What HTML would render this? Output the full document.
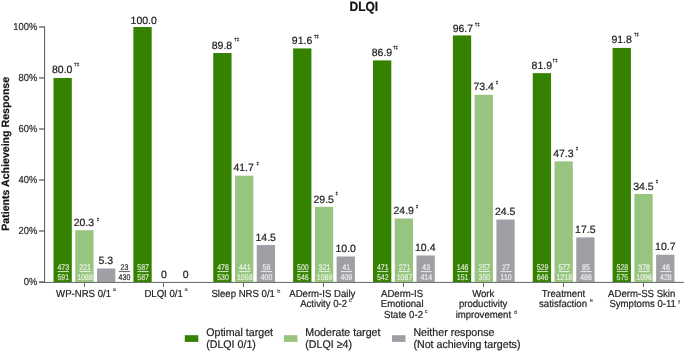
<!DOCTYPE html><html><head><meta charset="utf-8"><style>
html,body{margin:0;padding:0;background:#fff;}
body{width:685px;height:352px;overflow:hidden;}
svg{display:block;will-change:transform;text-rendering:geometricPrecision;} svg{font-family:"Liberation Sans",sans-serif;}
</style></head><body>
<svg width="685" height="352" viewBox="0 0 685 352">
<text transform="translate(363.8,10.5) scale(1,1.11)" font-size="12" font-weight="bold" text-anchor="middle" fill="#111" stroke="#111" stroke-width="0.2">DLQI</text>
<text transform="translate(9.3,153.8) rotate(-90)" font-size="10.6" font-weight="bold" text-anchor="middle" fill="#111" stroke="#111" stroke-width="0.2">Patients Achieveing Response</text>
<text transform="translate(37.3,284.80) scale(1,1.08)" font-size="9.4" text-anchor="end" fill="#2a2a2a" stroke="#2a2a2a" stroke-width="0.2">0%</text>
<rect x="39" y="281.40" width="5.5" height="1.2" fill="#555"/>
<text transform="translate(37.3,233.80) scale(1,1.08)" font-size="9.4" text-anchor="end" fill="#2a2a2a" stroke="#2a2a2a" stroke-width="0.2">20%</text>
<rect x="39" y="230.40" width="5.5" height="1.2" fill="#555"/>
<text transform="translate(37.3,182.80) scale(1,1.08)" font-size="9.4" text-anchor="end" fill="#2a2a2a" stroke="#2a2a2a" stroke-width="0.2">40%</text>
<rect x="39" y="179.40" width="5.5" height="1.2" fill="#555"/>
<text transform="translate(37.3,131.80) scale(1,1.08)" font-size="9.4" text-anchor="end" fill="#2a2a2a" stroke="#2a2a2a" stroke-width="0.2">60%</text>
<rect x="39" y="128.40" width="5.5" height="1.2" fill="#555"/>
<text transform="translate(37.3,80.80) scale(1,1.08)" font-size="9.4" text-anchor="end" fill="#2a2a2a" stroke="#2a2a2a" stroke-width="0.2">80%</text>
<rect x="39" y="77.40" width="5.5" height="1.2" fill="#555"/>
<text transform="translate(37.3,29.80) scale(1,1.08)" font-size="9.4" text-anchor="end" fill="#2a2a2a" stroke="#2a2a2a" stroke-width="0.2">100%</text>
<rect x="39" y="26.40" width="5.5" height="1.2" fill="#555"/>
<rect x="44" y="26.5" width="1.1" height="256" fill="#626262"/>
<rect x="39" y="281.9" width="645" height="1" fill="#626262"/>
<rect x="84" y="283" width="1" height="4" fill="#666"/>
<rect x="53.50" y="78.00" width="18.30" height="204.00" fill="#348200"/>
<text x="51.96" y="73.40" font-size="10.5" fill="#222222" stroke="#222222" stroke-width="0.2">80.0</text>
<text x="74.09" y="66.43" font-size="4.6" font-weight="bold" fill="#222222" stroke="#222222" stroke-width="0.2">†‡</text>
<text transform="translate(63.25,269.8) scale(1,1.18)" font-size="7" text-anchor="middle" fill="#d3e4c8" stroke="#d3e4c8" stroke-width="0.2">473</text>
<rect x="57.65" y="271.0" width="11.2" height="1.1" fill="#c6dbb6"/>
<text transform="translate(63.25,280) scale(1,1.18)" font-size="7" text-anchor="middle" fill="#d3e4c8" stroke="#d3e4c8" stroke-width="0.2">591</text>
<rect x="75.25" y="230.24" width="18.30" height="51.76" fill="#97c47f"/>
<text x="73.70" y="226.10" font-size="10.5" fill="#222222" stroke="#222222" stroke-width="0.2">20.3</text>
<text x="96.71" y="220.79" font-size="4.4" font-weight="bold" fill="#222222" stroke="#222222" stroke-width="0.2">‡</text>
<text transform="translate(85.00,269.8) scale(1,1.18)" font-size="7" text-anchor="middle" fill="#e8f1e2" stroke="#e8f1e2" stroke-width="0.2">221</text>
<rect x="79.40" y="271.0" width="11.2" height="1.1" fill="#e2eedb"/>
<text transform="translate(85.00,280) scale(1,1.18)" font-size="7" text-anchor="middle" fill="#e8f1e2" stroke="#e8f1e2" stroke-width="0.2">1088</text>
<rect x="97.00" y="268.49" width="18.30" height="13.51" fill="#a09fa6"/>
<text x="98.52" y="264.40" font-size="10.5" fill="#222222" stroke="#222222" stroke-width="0.2">5.3</text>
<text transform="translate(124.45,269.8) scale(1,1.18)" font-size="7" text-anchor="middle" fill="#2a2a2a" stroke="#2a2a2a" stroke-width="0.2">23</text>
<rect x="118.85" y="271.0" width="11.2" height="1.1" fill="#6a6a6a"/>
<text transform="translate(124.45,280) scale(1,1.18)" font-size="7" text-anchor="middle" fill="#2a2a2a" stroke="#2a2a2a" stroke-width="0.2">430</text>
<text transform="translate(83.55,296.90) scale(1,1.06)" font-size="9.6" text-anchor="middle" fill="#222222" stroke="#222222" stroke-width="0.2">WP-NRS 0/1</text>
<text x="112.80" y="291.40" font-size="5.6" fill="#333" stroke="#333" stroke-width="0.1">a</text>
<rect x="163" y="283" width="1" height="4" fill="#666"/>
<rect x="133.38" y="27.00" width="18.30" height="255.00" fill="#348200"/>
<text x="130.57" y="24.20" font-size="10.5" fill="#222222" stroke="#222222" stroke-width="0.2">100.0</text>
<text transform="translate(143.12,269.8) scale(1,1.18)" font-size="7" text-anchor="middle" fill="#d3e4c8" stroke="#d3e4c8" stroke-width="0.2">587</text>
<rect x="137.53" y="271.0" width="11.2" height="1.1" fill="#c6dbb6"/>
<text transform="translate(143.12,280) scale(1,1.18)" font-size="7" text-anchor="middle" fill="#d3e4c8" stroke="#d3e4c8" stroke-width="0.2">587</text>
<text x="161.03" y="277.80" font-size="10.5" fill="#222222" stroke="#222222" stroke-width="0.2">0</text>
<text x="182.63" y="277.80" font-size="10.5" fill="#222222" stroke="#222222" stroke-width="0.2">0</text>
<text transform="translate(163.60,296.90) scale(1,1.06)" font-size="9.6" text-anchor="middle" fill="#222222" stroke="#222222" stroke-width="0.2">DLQI 0/1</text>
<text x="184.50" y="291.40" font-size="5.6" fill="#333" stroke="#333" stroke-width="0.1">a</text>
<rect x="243" y="283" width="1" height="4" fill="#666"/>
<rect x="213.25" y="53.01" width="18.30" height="228.99" fill="#348200"/>
<text x="211.71" y="48.50" font-size="10.5" fill="#222222" stroke="#222222" stroke-width="0.2">89.8</text>
<text x="234.19" y="41.43" font-size="4.6" font-weight="bold" fill="#222222" stroke="#222222" stroke-width="0.2">†‡</text>
<text transform="translate(223.00,269.8) scale(1,1.18)" font-size="7" text-anchor="middle" fill="#d3e4c8" stroke="#d3e4c8" stroke-width="0.2">476</text>
<rect x="217.40" y="271.0" width="11.2" height="1.1" fill="#c6dbb6"/>
<text transform="translate(223.00,280) scale(1,1.18)" font-size="7" text-anchor="middle" fill="#d3e4c8" stroke="#d3e4c8" stroke-width="0.2">530</text>
<rect x="235.00" y="175.67" width="18.30" height="106.33" fill="#97c47f"/>
<text x="233.38" y="171.30" font-size="10.5" fill="#222222" stroke="#222222" stroke-width="0.2">41.7</text>
<text x="256.61" y="165.19" font-size="4.4" font-weight="bold" fill="#222222" stroke="#222222" stroke-width="0.2">‡</text>
<text transform="translate(244.75,269.8) scale(1,1.18)" font-size="7" text-anchor="middle" fill="#e8f1e2" stroke="#e8f1e2" stroke-width="0.2">441</text>
<rect x="239.15" y="271.0" width="11.2" height="1.1" fill="#e2eedb"/>
<text transform="translate(244.75,280) scale(1,1.18)" font-size="7" text-anchor="middle" fill="#e8f1e2" stroke="#e8f1e2" stroke-width="0.2">1058</text>
<rect x="256.75" y="245.03" width="18.30" height="36.97" fill="#a09fa6"/>
<text x="255.53" y="240.80" font-size="10.5" fill="#222222" stroke="#222222" stroke-width="0.2">14.5</text>
<text transform="translate(266.50,269.8) scale(1,1.18)" font-size="7" text-anchor="middle" fill="#eaeaeb" stroke="#eaeaeb" stroke-width="0.2">58</text>
<rect x="260.90" y="271.0" width="11.2" height="1.1" fill="#e4e4e6"/>
<text transform="translate(266.50,280) scale(1,1.18)" font-size="7" text-anchor="middle" fill="#eaeaeb" stroke="#eaeaeb" stroke-width="0.2">400</text>
<text transform="translate(243.20,296.90) scale(1,1.06)" font-size="9.6" text-anchor="middle" fill="#222222" stroke="#222222" stroke-width="0.2">Sleep NRS 0/1</text>
<text x="277.20" y="293.30" font-size="5.6" fill="#333" stroke="#333" stroke-width="0.1">b</text>
<rect x="323" y="283" width="1" height="4" fill="#666"/>
<rect x="293.12" y="48.42" width="18.30" height="233.58" fill="#348200"/>
<text x="291.82" y="44.20" font-size="10.5" fill="#222222" stroke="#222222" stroke-width="0.2">91.6</text>
<text x="313.89" y="38.03" font-size="4.6" font-weight="bold" fill="#222222" stroke="#222222" stroke-width="0.2">†‡</text>
<text transform="translate(302.88,269.8) scale(1,1.18)" font-size="7" text-anchor="middle" fill="#d3e4c8" stroke="#d3e4c8" stroke-width="0.2">500</text>
<rect x="297.27" y="271.0" width="11.2" height="1.1" fill="#c6dbb6"/>
<text transform="translate(302.88,280) scale(1,1.18)" font-size="7" text-anchor="middle" fill="#d3e4c8" stroke="#d3e4c8" stroke-width="0.2">546</text>
<rect x="314.88" y="206.78" width="18.30" height="75.22" fill="#97c47f"/>
<text x="313.49" y="202.60" font-size="10.5" fill="#222222" stroke="#222222" stroke-width="0.2">29.5</text>
<text x="335.41" y="195.49" font-size="4.4" font-weight="bold" fill="#222222" stroke="#222222" stroke-width="0.2">‡</text>
<text transform="translate(324.62,269.8) scale(1,1.18)" font-size="7" text-anchor="middle" fill="#e8f1e2" stroke="#e8f1e2" stroke-width="0.2">321</text>
<rect x="319.02" y="271.0" width="11.2" height="1.1" fill="#e2eedb"/>
<text transform="translate(324.62,280) scale(1,1.18)" font-size="7" text-anchor="middle" fill="#e8f1e2" stroke="#e8f1e2" stroke-width="0.2">1089</text>
<rect x="336.62" y="256.50" width="18.30" height="25.50" fill="#a09fa6"/>
<text x="335.49" y="252.20" font-size="10.5" fill="#222222" stroke="#222222" stroke-width="0.2">10.0</text>
<text transform="translate(346.38,269.8) scale(1,1.18)" font-size="7" text-anchor="middle" fill="#eaeaeb" stroke="#eaeaeb" stroke-width="0.2">41</text>
<rect x="340.77" y="271.0" width="11.2" height="1.1" fill="#e4e4e6"/>
<text transform="translate(346.38,280) scale(1,1.18)" font-size="7" text-anchor="middle" fill="#eaeaeb" stroke="#eaeaeb" stroke-width="0.2">409</text>
<text transform="translate(322.30,296.90) scale(1,1.06)" font-size="9.6" text-anchor="middle" fill="#222222" stroke="#222222" stroke-width="0.2">ADerm-IS Daily</text>
<text transform="translate(323.60,307.45) scale(1,1.06)" font-size="9.6" text-anchor="middle" fill="#222222" stroke="#222222" stroke-width="0.2">Activity 0-2</text>
<text x="349.10" y="301.95" font-size="5.6" fill="#333" stroke="#333" stroke-width="0.1">c</text>
<rect x="403" y="283" width="1" height="4" fill="#666"/>
<rect x="373.00" y="60.41" width="18.30" height="221.59" fill="#348200"/>
<text x="371.75" y="56.20" font-size="10.5" fill="#222222" stroke="#222222" stroke-width="0.2">86.9</text>
<text x="392.99" y="49.43" font-size="4.6" font-weight="bold" fill="#222222" stroke="#222222" stroke-width="0.2">†‡</text>
<text transform="translate(382.75,269.8) scale(1,1.18)" font-size="7" text-anchor="middle" fill="#d3e4c8" stroke="#d3e4c8" stroke-width="0.2">471</text>
<rect x="377.15" y="271.0" width="11.2" height="1.1" fill="#c6dbb6"/>
<text transform="translate(382.75,280) scale(1,1.18)" font-size="7" text-anchor="middle" fill="#d3e4c8" stroke="#d3e4c8" stroke-width="0.2">542</text>
<rect x="394.75" y="218.50" width="18.30" height="63.50" fill="#97c47f"/>
<text x="393.52" y="214.40" font-size="10.5" fill="#222222" stroke="#222222" stroke-width="0.2">24.9</text>
<text x="415.71" y="207.79" font-size="4.4" font-weight="bold" fill="#222222" stroke="#222222" stroke-width="0.2">‡</text>
<text transform="translate(404.50,269.8) scale(1,1.18)" font-size="7" text-anchor="middle" fill="#e8f1e2" stroke="#e8f1e2" stroke-width="0.2">271</text>
<rect x="398.90" y="271.0" width="11.2" height="1.1" fill="#e2eedb"/>
<text transform="translate(404.50,280) scale(1,1.18)" font-size="7" text-anchor="middle" fill="#e8f1e2" stroke="#e8f1e2" stroke-width="0.2">1087</text>
<rect x="416.50" y="255.48" width="18.30" height="26.52" fill="#a09fa6"/>
<text x="415.04" y="251.20" font-size="10.5" fill="#222222" stroke="#222222" stroke-width="0.2">10.4</text>
<text transform="translate(426.25,269.8) scale(1,1.18)" font-size="7" text-anchor="middle" fill="#eaeaeb" stroke="#eaeaeb" stroke-width="0.2">43</text>
<rect x="420.65" y="271.0" width="11.2" height="1.1" fill="#e4e4e6"/>
<text transform="translate(426.25,280) scale(1,1.18)" font-size="7" text-anchor="middle" fill="#eaeaeb" stroke="#eaeaeb" stroke-width="0.2">414</text>
<text transform="translate(402.05,296.90) scale(1,1.06)" font-size="9.6" text-anchor="middle" fill="#222222" stroke="#222222" stroke-width="0.2">ADerm-IS</text>
<text transform="translate(402.20,307.45) scale(1,1.06)" font-size="9.6" text-anchor="middle" fill="#222222" stroke="#222222" stroke-width="0.2">Emotional</text>
<text transform="translate(403.50,318.00) scale(1,1.06)" font-size="9.6" text-anchor="middle" fill="#222222" stroke="#222222" stroke-width="0.2">State 0-2</text>
<text x="424.80" y="312.50" font-size="5.6" fill="#333" stroke="#333" stroke-width="0.1">c</text>
<rect x="483" y="283" width="1" height="4" fill="#666"/>
<rect x="452.88" y="35.42" width="18.30" height="246.58" fill="#348200"/>
<text x="452.70" y="32.10" font-size="10.5" fill="#222222" stroke="#222222" stroke-width="0.2">96.7</text>
<text x="474.69" y="26.43" font-size="4.6" font-weight="bold" fill="#222222" stroke="#222222" stroke-width="0.2">†‡</text>
<text transform="translate(462.62,269.8) scale(1,1.18)" font-size="7" text-anchor="middle" fill="#d3e4c8" stroke="#d3e4c8" stroke-width="0.2">146</text>
<rect x="457.02" y="271.0" width="11.2" height="1.1" fill="#c6dbb6"/>
<text transform="translate(462.62,280) scale(1,1.18)" font-size="7" text-anchor="middle" fill="#d3e4c8" stroke="#d3e4c8" stroke-width="0.2">151</text>
<rect x="474.62" y="94.83" width="18.30" height="187.17" fill="#97c47f"/>
<text x="473.47" y="90.35" font-size="10.5" fill="#222222" stroke="#222222" stroke-width="0.2">73.4</text>
<text x="495.71" y="83.89" font-size="4.4" font-weight="bold" fill="#222222" stroke="#222222" stroke-width="0.2">‡</text>
<text transform="translate(484.38,269.8) scale(1,1.18)" font-size="7" text-anchor="middle" fill="#e8f1e2" stroke="#e8f1e2" stroke-width="0.2">257</text>
<rect x="478.77" y="271.0" width="11.2" height="1.1" fill="#e2eedb"/>
<text transform="translate(484.38,280) scale(1,1.18)" font-size="7" text-anchor="middle" fill="#e8f1e2" stroke="#e8f1e2" stroke-width="0.2">350</text>
<rect x="496.38" y="219.53" width="18.30" height="62.47" fill="#a09fa6"/>
<text x="494.94" y="215.10" font-size="10.5" fill="#222222" stroke="#222222" stroke-width="0.2">24.5</text>
<text transform="translate(506.12,269.8) scale(1,1.18)" font-size="7" text-anchor="middle" fill="#eaeaeb" stroke="#eaeaeb" stroke-width="0.2">27</text>
<rect x="500.52" y="271.0" width="11.2" height="1.1" fill="#e4e4e6"/>
<text transform="translate(506.12,280) scale(1,1.18)" font-size="7" text-anchor="middle" fill="#eaeaeb" stroke="#eaeaeb" stroke-width="0.2">110</text>
<text transform="translate(483.25,296.90) scale(1,1.06)" font-size="9.6" text-anchor="middle" fill="#222222" stroke="#222222" stroke-width="0.2">Work</text>
<text transform="translate(483.15,307.45) scale(1,1.06)" font-size="9.6" text-anchor="middle" fill="#222222" stroke="#222222" stroke-width="0.2">productivity</text>
<text transform="translate(483.35,318.00) scale(1,1.06)" font-size="9.6" text-anchor="middle" fill="#222222" stroke="#222222" stroke-width="0.2">improvement</text>
<text x="513.80" y="314.40" font-size="5.6" fill="#333" stroke="#333" stroke-width="0.1">d</text>
<rect x="563" y="283" width="1" height="4" fill="#666"/>
<rect x="532.75" y="73.16" width="18.30" height="208.84" fill="#348200"/>
<text x="531.60" y="69.00" font-size="10.5" fill="#222222" stroke="#222222" stroke-width="0.2">81.9</text>
<text x="552.39" y="62.23" font-size="4.6" font-weight="bold" fill="#222222" stroke="#222222" stroke-width="0.2">†‡</text>
<text transform="translate(542.50,269.8) scale(1,1.18)" font-size="7" text-anchor="middle" fill="#d3e4c8" stroke="#d3e4c8" stroke-width="0.2">529</text>
<rect x="536.90" y="271.0" width="11.2" height="1.1" fill="#c6dbb6"/>
<text transform="translate(542.50,280) scale(1,1.18)" font-size="7" text-anchor="middle" fill="#d3e4c8" stroke="#d3e4c8" stroke-width="0.2">646</text>
<rect x="554.50" y="161.39" width="18.30" height="120.61" fill="#97c47f"/>
<text x="553.17" y="157.10" font-size="10.5" fill="#222222" stroke="#222222" stroke-width="0.2">47.3</text>
<text x="575.71" y="150.39" font-size="4.4" font-weight="bold" fill="#222222" stroke="#222222" stroke-width="0.2">‡</text>
<text transform="translate(564.25,269.8) scale(1,1.18)" font-size="7" text-anchor="middle" fill="#e8f1e2" stroke="#e8f1e2" stroke-width="0.2">577</text>
<rect x="558.65" y="271.0" width="11.2" height="1.1" fill="#e2eedb"/>
<text transform="translate(564.25,280) scale(1,1.18)" font-size="7" text-anchor="middle" fill="#e8f1e2" stroke="#e8f1e2" stroke-width="0.2">1218</text>
<rect x="576.25" y="237.38" width="18.30" height="44.62" fill="#a09fa6"/>
<text x="575.05" y="233.20" font-size="10.5" fill="#222222" stroke="#222222" stroke-width="0.2">17.5</text>
<text transform="translate(586.00,269.8) scale(1,1.18)" font-size="7" text-anchor="middle" fill="#eaeaeb" stroke="#eaeaeb" stroke-width="0.2">85</text>
<rect x="580.40" y="271.0" width="11.2" height="1.1" fill="#e4e4e6"/>
<text transform="translate(586.00,280) scale(1,1.18)" font-size="7" text-anchor="middle" fill="#eaeaeb" stroke="#eaeaeb" stroke-width="0.2">486</text>
<text transform="translate(563.50,296.90) scale(1,1.06)" font-size="9.6" text-anchor="middle" fill="#222222" stroke="#222222" stroke-width="0.2">Treatment</text>
<text transform="translate(563.00,307.45) scale(1,1.06)" font-size="9.6" text-anchor="middle" fill="#222222" stroke="#222222" stroke-width="0.2">satisfaction</text>
<text x="589.80" y="301.95" font-size="5.6" fill="#333" stroke="#333" stroke-width="0.1">e</text>
<rect x="643" y="283" width="1" height="4" fill="#666"/>
<rect x="612.62" y="47.91" width="18.30" height="234.09" fill="#348200"/>
<text x="611.41" y="43.40" font-size="10.5" fill="#222222" stroke="#222222" stroke-width="0.2">91.8</text>
<text x="633.89" y="36.23" font-size="4.6" font-weight="bold" fill="#222222" stroke="#222222" stroke-width="0.2">†‡</text>
<text transform="translate(622.38,269.8) scale(1,1.18)" font-size="7" text-anchor="middle" fill="#d3e4c8" stroke="#d3e4c8" stroke-width="0.2">528</text>
<rect x="616.77" y="271.0" width="11.2" height="1.1" fill="#c6dbb6"/>
<text transform="translate(622.38,280) scale(1,1.18)" font-size="7" text-anchor="middle" fill="#d3e4c8" stroke="#d3e4c8" stroke-width="0.2">575</text>
<rect x="634.38" y="194.03" width="18.30" height="87.97" fill="#97c47f"/>
<text x="633.23" y="189.80" font-size="10.5" fill="#222222" stroke="#222222" stroke-width="0.2">34.5</text>
<text x="655.71" y="183.29" font-size="4.4" font-weight="bold" fill="#222222" stroke="#222222" stroke-width="0.2">‡</text>
<text transform="translate(644.12,269.8) scale(1,1.18)" font-size="7" text-anchor="middle" fill="#e8f1e2" stroke="#e8f1e2" stroke-width="0.2">378</text>
<rect x="638.52" y="271.0" width="11.2" height="1.1" fill="#e2eedb"/>
<text transform="translate(644.12,280) scale(1,1.18)" font-size="7" text-anchor="middle" fill="#e8f1e2" stroke="#e8f1e2" stroke-width="0.2">1096</text>
<rect x="656.12" y="254.72" width="18.30" height="27.28" fill="#a09fa6"/>
<text x="655.10" y="250.20" font-size="10.5" fill="#222222" stroke="#222222" stroke-width="0.2">10.7</text>
<text transform="translate(665.88,269.8) scale(1,1.18)" font-size="7" text-anchor="middle" fill="#eaeaeb" stroke="#eaeaeb" stroke-width="0.2">46</text>
<rect x="660.27" y="271.0" width="11.2" height="1.1" fill="#e4e4e6"/>
<text transform="translate(665.88,280) scale(1,1.18)" font-size="7" text-anchor="middle" fill="#eaeaeb" stroke="#eaeaeb" stroke-width="0.2">428</text>
<text transform="translate(641.70,296.90) scale(1,1.06)" font-size="9.6" text-anchor="middle" fill="#222222" stroke="#222222" stroke-width="0.2">ADerm-SS Skin</text>
<text transform="translate(642.65,307.45) scale(1,1.06)" font-size="9.6" text-anchor="middle" fill="#222222" stroke="#222222" stroke-width="0.2">Symptoms 0-11</text>
<text x="678.20" y="303.85" font-size="5.6" fill="#333" stroke="#333" stroke-width="0.1">f</text>
<rect x="184.80" y="335.2" width="13.5" height="6.7" fill="#348200"/>
<text transform="translate(206.20,336.3) scale(1,1.05)" font-size="10.65" fill="#222222" stroke="#222222" stroke-width="0.2">Optimal target</text>
<text transform="translate(206.20,347.9) scale(1,1.05)" font-size="10.65" fill="#222222" stroke="#222222" stroke-width="0.2">(DLQI 0/1)</text>
<rect x="283.90" y="335.2" width="13.5" height="6.7" fill="#97c47f"/>
<text transform="translate(305.30,336.3) scale(1,1.05)" font-size="10.65" fill="#222222" stroke="#222222" stroke-width="0.2">Moderate target</text>
<text transform="translate(305.30,347.9) scale(1,1.05)" font-size="10.65" fill="#222222" stroke="#222222" stroke-width="0.2">(DLQI ≥4)</text>
<rect x="392.00" y="335.2" width="13.5" height="6.7" fill="#a09fa6"/>
<text transform="translate(413.40,336.3) scale(1,1.05)" font-size="10.65" fill="#222222" stroke="#222222" stroke-width="0.2">Neither response</text>
<text transform="translate(413.40,347.9) scale(1,1.05)" font-size="10.65" fill="#222222" stroke="#222222" stroke-width="0.2">(Not achieving targets)</text>
</svg>
</body></html>
